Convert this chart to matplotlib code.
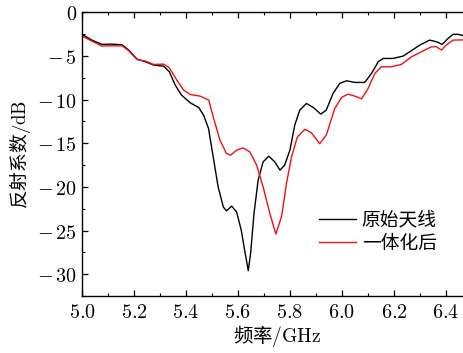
import matplotlib
matplotlib.use('Agg')
import matplotlib.pyplot as plt
from matplotlib.ticker import MultipleLocator, FuncFormatter

plt.rcParams['font.family'] = ['Noto Sans CJK SC', 'DejaVu Sans']
plt.rcParams['mathtext.fontset'] = 'cm'

# original antenna (black)
freq_orig = [5.000, 5.038, 5.077, 5.115, 5.154, 5.180, 5.212, 5.244, 5.276, 5.314,
             5.336, 5.359, 5.383, 5.417, 5.449, 5.468, 5.487, 5.505, 5.524, 5.544,
             5.556, 5.576, 5.595, 5.613, 5.628, 5.640, 5.649, 5.662, 5.678, 5.697,
             5.719, 5.742, 5.762, 5.780, 5.800, 5.819, 5.838, 5.864, 5.890, 5.919,
             5.940, 5.966, 5.992, 6.018, 6.050, 6.088, 6.114, 6.140, 6.159, 6.197,
             6.236, 6.275, 6.300, 6.338, 6.364, 6.386, 6.409, 6.428, 6.448, 6.470]
s11_orig = [-2.5, -3.18, -3.67, -3.64, -3.71, -4.32, -5.36, -5.66, -6.04, -6.16,
            -6.8, -8.34, -9.48, -10.37, -10.9, -11.78, -13.3, -16.56, -20.0, -22.3,
            -22.75, -22.2, -22.87, -24.97, -27.6, -29.6, -27.6, -23.05, -19.2, -17.13,
            -16.48, -17.13, -18.08, -17.5, -15.8, -12.9, -11.2, -10.44, -10.9, -11.66,
            -11.2, -9.3, -8.14, -7.84, -8.03, -8.03, -7.0, -5.66, -5.28, -5.28,
            -5.01, -4.24, -3.75, -3.18, -3.37, -3.67, -2.98, -2.52, -2.52, -2.7]

# integrated antenna (red)
freq_int = [5.000, 5.038, 5.077, 5.115, 5.154, 5.180, 5.212, 5.244, 5.276, 5.314,
            5.336, 5.365, 5.391, 5.417, 5.455, 5.488, 5.505, 5.531, 5.556, 5.572,
            5.595, 5.620, 5.646, 5.672, 5.697, 5.723, 5.746, 5.768, 5.787, 5.806,
            5.829, 5.858, 5.883, 5.915, 5.940, 5.973, 5.999, 6.024, 6.050, 6.076,
            6.101, 6.127, 6.152, 6.190, 6.229, 6.268, 6.306, 6.345, 6.364, 6.383,
            6.402, 6.428, 6.470]
s11_int = [-2.72, -3.29, -3.86, -3.83, -3.83, -4.4, -5.4, -5.58, -5.97, -5.93,
           -6.35, -7.76, -8.91, -9.41, -9.6, -10.06, -11.97, -14.64, -16.17, -16.36,
           -15.8, -15.53, -15.99, -17.5, -20.0, -23.05, -25.4, -23.4, -19.6, -16.6,
           -14.27, -13.4, -13.8, -15.05, -14.07, -11.0, -9.75, -9.37, -9.6, -9.9,
           -8.72, -7.0, -6.24, -6.24, -5.97, -5.09, -4.52, -3.94, -3.94, -4.32,
           -3.75, -3.18, -3.15]

fig = plt.figure(figsize=(4.63, 3.53), dpi=100)
ax = fig.add_axes([0.177, 0.1615, 0.842, 0.8035])

ax.plot(freq_orig, s11_orig, color='black', lw=1.0, label='原始天线')
ax.plot(freq_int, s11_int, color='#ee1111', lw=1.0, label='一体化后')

ax.set_xlim(5.0, 6.5)
ax.set_ylim(-32.5, 0)
ax.xaxis.set_major_locator(MultipleLocator(0.2))
ax.xaxis.set_minor_locator(MultipleLocator(0.1))
ax.yaxis.set_major_locator(MultipleLocator(5))
ax.yaxis.set_minor_locator(MultipleLocator(2.5))
ax.xaxis.set_major_formatter(FuncFormatter(lambda v, p: r'$%.1f$' % v))
ax.yaxis.set_major_formatter(FuncFormatter(
    lambda v, p: r'$%s%d$' % (r'-\,' if v < -0.01 else '', round(abs(v)))))
ax.tick_params(which='both', direction='in', top=True, labelsize=14.5)
ax.tick_params(axis='x', pad=4)
ax.tick_params(axis='y', pad=3.5)
ax.tick_params(which='major', length=4, width=0.9)
ax.tick_params(which='minor', length=2, width=0.8)
for sp in ax.spines.values():
    sp.set_linewidth(1.0)

ax.set_xlabel(r'频率$/\mathrm{GHz}$', fontsize=14, labelpad=0)
ax.set_ylabel(r'反射系数$/\mathrm{dB}$', fontsize=13.5, labelpad=3)

ax.legend(loc='upper left', bbox_to_anchor=(0.607, 0.305), frameon=False,
          fontsize=13.5, handlelength=2.0, handletextpad=0.3, labelspacing=0.12,
          borderpad=0, borderaxespad=0)

fig.savefig('out.png', dpi=100)
